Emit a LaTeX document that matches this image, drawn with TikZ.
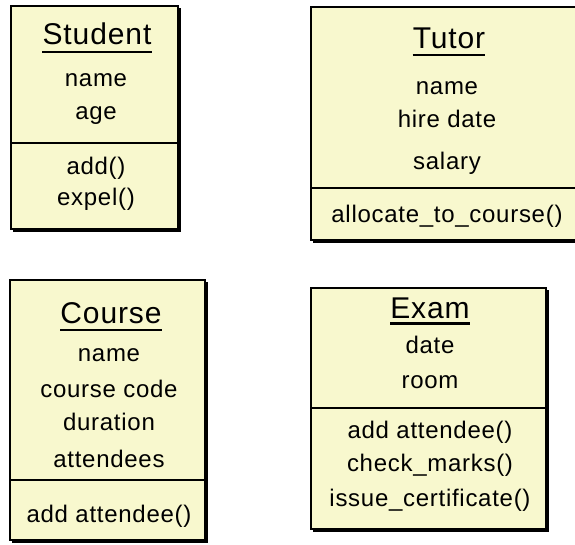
\documentclass[tikz,border=0pt]{standalone}
\usepackage{fontspec}
\setmainfont{Liberation Sans}[LetterSpace=3]
\usetikzlibrary{calc}
\definecolor{classfill}{RGB}{248,248,206}
\tikzset{
  classbox/.style={draw=black, line width=2pt, fill=classfill},
  shade line/.style={draw=black, line width=2.5pt},
  divider/.style={draw=black, line width=1.5pt},
  titletxt/.style={inner sep=0pt, anchor=base, font=\fontsize{30}{34}\selectfont},
  attr/.style={inner sep=0pt, anchor=base, font=\fontsize{24}{28}\selectfont},
  uline/.style={draw=black, line width=2pt},
}
\begin{document}
\begin{tikzpicture}[x=1pt,y=-1pt]
\useasboundingbox (0,0) rectangle (575,545);
\fill[white] (0,0) rectangle (575,545);

% ---------- Student ----------
\draw[shade line] (13,230.5) -- (179.5,230.5) -- (179.5,8);
\draw[classbox] (11,6) rectangle (178,229);
\draw[divider] (11,143) -- (178,143);
\node[titletxt] (st) at (97,45) {Student};
\draw[uline] ($(st.base west)+(0,7)$) -- ($(st.base east)+(0,7)$);
\node[attr] (s1) at (96,87) {name};
\node[attr] (s2) at (96,120) {age};
\node[attr] (s3) at (96,175) {add()};
\node[attr] (s4) at (96,206) {expel()};

% ---------- Tutor ----------
\draw[shade line] (313,241.5) -- (590,241.5);
\draw[classbox] (311,7) rectangle (590,240);
\draw[divider] (311,188) -- (590,188);
\node[titletxt] (tt) at (449,49) {Tutor};
\draw[uline, line width=1.5pt] ($(tt.base west)+(0,6)$) -- ($(tt.base east)+(0,6)$);
\node[attr] (t1) at (447,94.5) {name};
\node[attr] (t2) at (447,128) {hire date};
\node[attr] (t3) at (447,169.5) {salary};
\node[attr] (t4) at (447,222.5) {allocate\_to\_course()};

% ---------- Course ----------
\draw[shade line] (12,541.5) -- (206.5,541.5) -- (206.5,282);
\draw[classbox] (10,280) rectangle (205,540);
\draw[divider] (10,480) -- (205,480);
\node[titletxt] (ct) at (111,323) {Course};
\draw[uline] ($(ct.base west)+(0,7)$) -- ($(ct.base east)+(0,7)$);
\node[attr] (c1) at (109,361) {name};
\node[attr] (c2) at (109,397) {course code};
\node[attr] (c3) at (109,430.5) {duration};
\node[attr] (c4) at (109,467) {attendees};
\node[attr] (c5) at (109,522) {add attendee()};

% ---------- Exam ----------
\draw[shade line] (313,530.5) -- (547.5,530.5) -- (547.5,290);
\draw[classbox] (311,288) rectangle (546,529);
\draw[divider] (311,408) -- (546,408);
\node[titletxt] (et) at (430,318) {Exam};
\draw[uline, line width=3pt] ($(et.base west)+(0,5.5)$) -- ($(et.base east)+(0,5.5)$);
\node[attr] (e1) at (430,353.5) {date};
\node[attr] (e2) at (430,388.5) {room};
\node[attr] (e3) at (430,438) {add attendee()};
\node[attr] (e4) at (430,471.5) {check\_marks()};
\node[attr] (e5) at (430,506) {issue\_certificate()};
\end{tikzpicture}
\end{document}
